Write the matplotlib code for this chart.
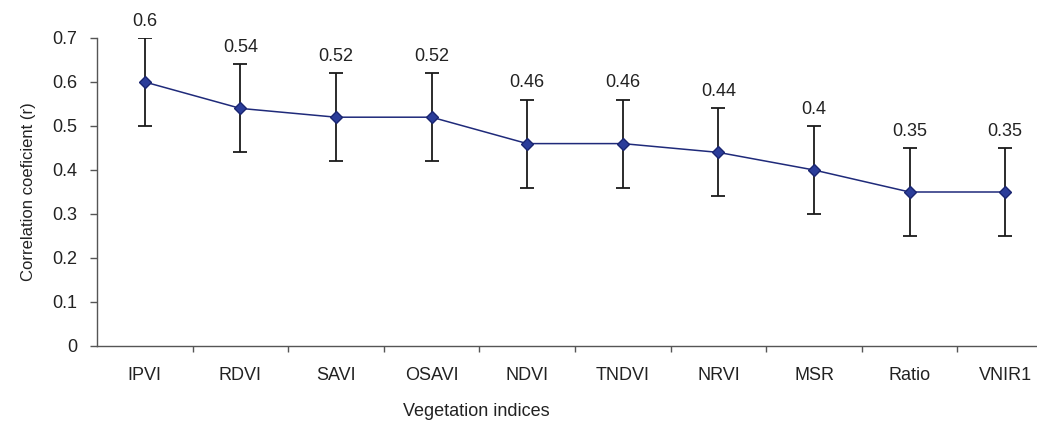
import numpy as np
import matplotlib
matplotlib.use("Agg")
import matplotlib.pyplot as plt

plt.rcParams['font.family'] = ['Liberation Sans', 'DejaVu Sans']

indices = ["IPVI", "RDVI", "SAVI", "OSAVI", "NDVI", "TNDVI", "NRVI", "MSR", "Ratio", "VNIR1"]
r_values = [0.6, 0.54, 0.52, 0.52, 0.46, 0.46, 0.44, 0.4, 0.35, 0.35]
r_err = [0.1, 0.1, 0.1, 0.1, 0.1, 0.1, 0.1, 0.1, 0.1, 0.1]
value_labels = ["0.6", "0.54", "0.52", "0.52", "0.46", "0.46", "0.44", "0.4", "0.35", "0.35"]

fig = plt.figure(figsize=(10.37, 4.25), dpi=100)
# axis runs past the right edge, as in the cropped original
ax = fig.add_axes([97/1037, 79/425, 956/1037, 308/425])

x = np.arange(len(indices))
ax.errorbar(x, r_values, yerr=r_err, fmt='none', ecolor='#1a1a1a',
            elinewidth=1.3, capsize=5, capthick=1.3, zorder=2)
ax.plot(x, r_values, color='#1f2a7a', lw=1.1, marker='D', ms=6.5,
        markerfacecolor='#2b3d9a', markeredgecolor='#1a2570', zorder=3)

for xi, v, e, lab in zip(x, r_values, r_err, value_labels):
    ax.annotate(lab, (xi, v + e), xytext=(0, 6), textcoords='offset points',
                ha='center', va='bottom', fontsize=13, color='#222222')

ax.set_xlim(-0.5, len(indices) - 0.5)
ax.set_ylim(0, 0.7)
ax.set_yticks(np.arange(0, 0.71, 0.1))
ax.set_yticklabels(["0", "0.1", "0.2", "0.3", "0.4", "0.5", "0.6", "0.7"])
ax.set_xticks(x)
ax.set_xticklabels(indices)
ax.set_xticks(np.arange(0.5, len(indices) - 0.5, 1), minor=True)

ax.tick_params(axis='y', which='major', length=5, width=1, color='#555555',
               labelsize=13, labelcolor='#222222', pad=9)
ax.tick_params(axis='x', which='major', length=0, labelsize=13,
               labelcolor='#222222', pad=15)
ax.tick_params(axis='x', which='minor', length=4, width=1, color='#555555')

for s in ['top', 'right']:
    ax.spines[s].set_visible(False)
for s in ['left', 'bottom']:
    ax.spines[s].set_color('#555555')
    ax.spines[s].set_linewidth(1)

ax.set_ylabel("Correlation coeficient (r)", fontsize=12, color='#222222', labelpad=12)
fig.text(476/1037, 1 - 412/425, "Vegetation indices", ha='center', va='center',
         fontsize=13, color='#222222')

fig.savefig("out.png", dpi=100)
